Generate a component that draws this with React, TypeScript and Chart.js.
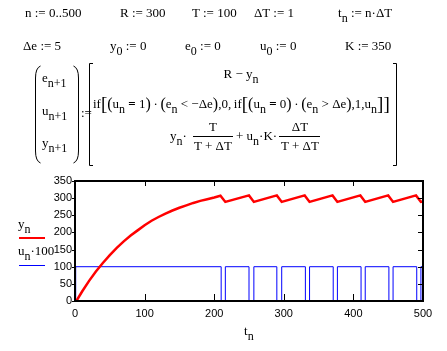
import React, { useEffect, useRef } from "react";
import { Chart, registerables } from "chart.js";

Chart.register(...registerables);

// ---- data ----
const xTickValues = [0, 100, 200, 300, 400, 500];
const yTickValues = [0, 50, 100, 150, 200, 250, 300, 350];

// y_n : rising part
const riseT = [0, 2, 10, 20, 30, 40, 50, 60, 70, 80, 90, 100, 110, 120, 130, 140, 150, 160, 170, 180, 190, 200];
const riseY = [0, 0, 27, 58, 86, 111, 134, 155, 174, 191, 206, 221, 234, 245, 255, 264, 272, 279, 286, 292, 297, 302];
// y_n : sawtooth part
const peakT = [209, 250, 290, 330, 370, 410, 450, 490];
const peakY = [307, 308, 308, 308, 308, 308, 308, 308];
const troughT = [216, 257, 297, 337, 377, 417, 457, 497];
const troughY = [289, 289, 289, 289, 289, 289, 289, 289];
const lastT = 500;
const lastY = 290;

// u_n·100 : change points (value holds from that t on)
const uChangeT = [0, 1, 210, 216, 250, 257, 290, 297, 331, 337, 371, 377, 411, 417, 451, 457, 491, 497, 500];
const uChangeV = [0, 100, 0, 100, 0, 100, 0, 100, 0, 100, 0, 100, 0, 100, 0, 100, 0, 100, 100];

const SERIF = '"Liberation Serif", "Times New Roman", serif';
const SANS = '"Liberation Sans", Arial, sans-serif';
const FS = 13;

function buildY() {
  const pts: { x: number; y: number }[] = [];
  riseT.forEach((t, i) => pts.push({ x: t, y: riseY[i] }));
  peakT.forEach((t, i) => {
    pts.push({ x: t, y: peakY[i] });
    pts.push({ x: troughT[i], y: troughY[i] });
  });
  pts.push({ x: lastT, y: lastY });
  return pts;
}

function buildU() {
  return uChangeT.map((t, i) => ({ x: t, y: uChangeV[i] }));
}

const framePlugin = {
  id: "mcframe",
  afterDatasetsDraw(chart: any) {
    const { ctx, chartArea } = chart;
    const xs = chart.scales.x;
    const ys = chart.scales.y;
    const { left, right, top, bottom } = chartArea;
    ctx.save();
    ctx.strokeStyle = "#000";
    ctx.lineWidth = 1;
    xTickValues.forEach((v) => {
      if (v === 0 || v === 500) return;
      const px = Math.round(xs.getPixelForValue(v)) + 0.5;
      ctx.beginPath();
      ctx.moveTo(px, bottom);
      ctx.lineTo(px, bottom - 7);
      ctx.moveTo(px, top);
      ctx.lineTo(px, top + 5);
      ctx.stroke();
    });
    yTickValues.forEach((v) => {
      const py = Math.round(ys.getPixelForValue(v)) + 0.5;
      ctx.beginPath();
      ctx.moveTo(left - 3, py);
      ctx.lineTo(left, py);
      if (v !== 0 && v !== 350) {
        ctx.moveTo(right, py);
        ctx.lineTo(right - 5, py);
      }
      ctx.stroke();
    });
    ctx.lineWidth = 2;
    ctx.strokeRect(left, top, right - left, bottom - top);
    ctx.restore();
  },
};

function ChartBox() {
  const ref = useRef<HTMLCanvasElement | null>(null);
  useEffect(() => {
    if (!ref.current) return;
    const chart = new Chart(ref.current, {
      type: "line",
      data: {
        datasets: [
          {
            data: buildY(),
            borderColor: "#ff0000",
            borderWidth: 2.5,
            pointRadius: 0,
            tension: 0,
          },
          {
            data: buildU(),
            borderColor: "#0000ff",
            borderWidth: 1,
            pointRadius: 0,
            stepped: true,
          },
        ],
      },
      options: {
        animation: false,
        responsive: false,
        maintainAspectRatio: false,
        layout: { padding: { top: 181, right: 24, bottom: 0, left: 0 } },
        plugins: { legend: { display: false }, tooltip: { enabled: false } },
        scales: {
          x: {
            type: "linear",
            min: 0,
            max: 500,
            afterBuildTicks: (s: any) => {
              s.ticks = xTickValues.map((v) => ({ value: v }));
            },
            ticks: {
              padding: 6,
              color: "#000",
              maxRotation: 0,
              autoSkip: false,
              font: { family: SANS, size: 11 },
            },
            grid: { display: false, drawTicks: false },
            border: { display: false },
            afterFit: (s: any) => {
              s.height = 50;
            },
          },
          y: {
            type: "linear",
            min: 0,
            max: 350,
            afterBuildTicks: (s: any) => {
              s.ticks = yTickValues.map((v) => ({ value: v }));
            },
            ticks: {
              padding: 3,
              color: "#000",
              autoSkip: false,
              font: { family: SANS, size: 11 },
            },
            grid: { display: false, drawTicks: false },
            border: { display: false },
            afterFit: (s: any) => {
              s.width = 75;
            },
          },
        },
      },
      plugins: [framePlugin],
    } as any);
    return () => chart.destroy();
  }, []);
  return (
    <canvas
      ref={ref}
      width={447}
      height={351}
      style={{ position: "absolute", left: 0, top: 0, width: 447, height: 351 }}
    />
  );
}

function Txt({ x, y, size = FS, children, w, center }: any) {
  return (
    <span
      style={{
        position: "absolute",
        left: x,
        top: y - Math.round(size * 0.8375),
        font: `${size}px ${SERIF}`,
        lineHeight: `${size}px`,
        whiteSpace: "pre",
        color: "#000",
        width: w,
        textAlign: center ? "center" : "left",
      }}
    >
      {children}
    </span>
  );
}

const Sub = ({ children }: any) => (
  <span style={{ position: "relative", top: 5, fontSize: 12 }}>{children}</span>
);
const Big = ({ children, size = 19, top = 2 }: any) => (
  <span style={{ position: "relative", top, fontSize: size }}>{children}</span>
);
const P = ({ children }: any) => (
  <Big size={16} top={1}>
    {children}
  </Big>
);
const Eq = () => <b>=</b>;
const th = "\u2009";

export default function App() {
  return (
    <div
      style={{
        position: "fixed",
        left: 0,
        top: 0,
        width: 447,
        height: 351,
        background: "#fff",
        overflow: "hidden",
      }}
    >
      <ChartBox />
      {/* row 1 */}
      <Txt x={25} y={17}>n := 0..500</Txt>
      <Txt x={120} y={17}>R := 300</Txt>
      <Txt x={192} y={17}>T := 100</Txt>
      <Txt x={254} y={17}>ΔT := 1</Txt>
      <Txt x={338} y={17}>
        t<Sub>n</Sub> := n·ΔT
      </Txt>
      {/* row 2 */}
      <Txt x={23} y={50}>Δe := 5</Txt>
      <Txt x={110} y={50}>
        y<Sub>0</Sub> := 0
      </Txt>
      <Txt x={185} y={50}>
        e<Sub>0</Sub> := 0
      </Txt>
      <Txt x={260} y={50}>
        u<Sub>0</Sub> := 0
      </Txt>
      <Txt x={345} y={50}>K := 350</Txt>

      {/* vector */}
      <Txt x={42} y={82}>
        e<Sub>n+1</Sub>
      </Txt>
      <Txt x={42} y={115}>
        u<Sub>n+1</Sub>
      </Txt>
      <Txt x={42} y={147}>
        y<Sub>n+1</Sub>
      </Txt>
      <Txt x={81} y={117}>:=</Txt>

      {/* matrix */}
      <Txt x={141} y={78} w={200} center>
        R − y<Sub>n</Sub>
      </Txt>
      <Txt x={93} y={106}>
        if<Big>[</Big>
        <P>(</P>u<Sub>n</Sub> <Eq /> 1<P>)</P>
        {th}·{th}
        <P>(</P>e<Sub>n</Sub> &lt; −Δe<P>)</P>
        ,0,{th}if<Big>[</Big>
        <P>(</P>u<Sub>n</Sub> <Eq /> 0<P>)</P>
        {th}·{th}
        <P>(</P>e<Sub>n</Sub> &gt; Δe<P>)</P>
        ,1,u<Sub>n</Sub>
        <Big>]]</Big>
      </Txt>
      <Txt x={170} y={140}>
        y<Sub>n</Sub>·
      </Txt>
      <Txt x={192} y={131} w={42} center>
        T
      </Txt>
      <Txt x={192} y={150} w={42} center>
        T + ΔT
      </Txt>
      <Txt x={236} y={140}>
        + u<Sub>n</Sub>·K·
      </Txt>
      <Txt x={279} y={131} w={42} center>
        ΔT
      </Txt>
      <Txt x={279} y={150} w={42} center>
        T + ΔT
      </Txt>

      {/* legend */}
      <Txt x={18} y={228}>
        y<Sub>n</Sub>
      </Txt>
      <div style={{ position: "absolute", left: 19, top: 237, width: 26, height: 2, background: "#ff0000" }} />
      <Txt x={18} y={255}>
        u<Sub>n</Sub>·100
      </Txt>
      <div style={{ position: "absolute", left: 19, top: 265, width: 26, height: 1, background: "#0000ff" }} />

      {/* x-axis label */}
      <Txt x={244} y={335}>
        t<Sub>n</Sub>
      </Txt>

      <svg
        width={447}
        height={351}
        style={{ position: "absolute", left: 0, top: 0, pointerEvents: "none" }}
      >
        <g fill="none" stroke="#000" strokeWidth={1}>
          <path d="M40.5 66 Q35.5 68 35.5 78 L35.5 151 Q35.5 161 40.5 163" />
          <path d="M73.5 66 Q78.5 68 78.5 78 L78.5 151 Q78.5 161 73.5 163" />
          <path d="M93 63.5 L89.5 63.5 L89.5 165.5 L93 165.5" />
          <path d="M393 63.5 L396.5 63.5 L396.5 165.5 L393 165.5" />
          <line x1={193} y1={136.5} x2={233} y2={136.5} />
          <line x1={279} y1={136.5} x2={320} y2={136.5} />
        </g>
      </svg>
    </div>
  );
}
